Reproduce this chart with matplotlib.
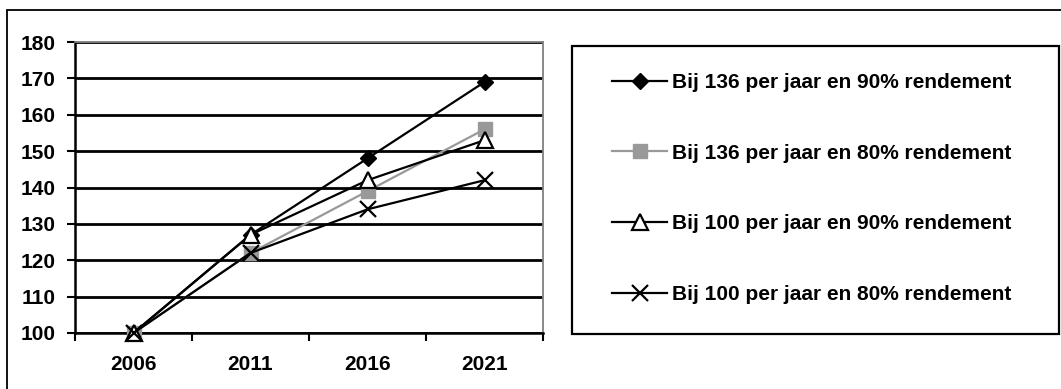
#!/usr/bin/env python3
"""Groei-index bij verschillende aantallen per jaar en rendement."""

import matplotlib.pyplot as plt
from matplotlib.patches import Rectangle

plt.rcParams["font.family"] = ["Liberation Sans", "DejaVu Sans"]
plt.rcParams["font.weight"] = "bold"

years = ["2006", "2011", "2016", "2021"]
s136_90 = [100, 127, 148, 169]
s136_80 = [100, 122, 139, 156]
s100_90 = [100, 127, 142, 153]
s100_80 = [100, 122, 134, 142]
labels = [
    "Bij 136 per jaar en 90% rendement",
    "Bij 136 per jaar en 80% rendement",
    "Bij 100 per jaar en 90% rendement",
    "Bij 100 per jaar en 80% rendement",
]

FS = 15
W, H = 1061, 389
fig = plt.figure(figsize=(W / 100, H / 100), dpi=100)

# outer chart border (runs off the right and bottom edge)
fig.patches.append(Rectangle((7 / W, -0.1), 1.2, 1.1 - 10 / H,
                             transform=fig.transFigure, fill=False,
                             edgecolor="black", linewidth=1.3))

ax = fig.add_axes([75 / W, (H - 333) / H, 468 / W, 291 / H])
x = range(len(years))

styles = [
    dict(color="black", marker="D", markersize=8, markerfacecolor="black"),
    dict(color="#999999", marker="s", markersize=10, markerfacecolor="#999999",
         markeredgecolor="#999999"),
    dict(color="black", marker="^", markersize=11, markerfacecolor="white",
         markeredgewidth=1.6),
    dict(color="black", marker="x", markersize=11, markeredgewidth=1.6),
]
series = [s136_90, s136_80, s100_90, s100_80]
handles = []
for vals, st, lab in zip(series, styles, labels):
    ln, = ax.plot(x, vals, linewidth=1.6, label=lab, clip_on=False, zorder=3, **st)
    handles.append(ln)

ax.set_xlim(-0.5, len(years) - 0.5)
ax.set_ylim(100, 180)
ax.set_yticks(range(100, 181, 10))
ax.yaxis.grid(True, color="black", linewidth=2)
ax.set_axisbelow(True)

# tick marks between categories, labels centred on them
ax.set_xticks([i - 0.5 for i in range(len(years) + 1)])
ax.set_xticklabels([])
ax.set_xticks(list(x), minor=True)
ax.set_xticklabels(years, minor=True)
ax.tick_params(axis="x", which="minor", length=0, pad=16, labelsize=FS)
ax.tick_params(axis="x", which="major", direction="out", length=6, width=1.5)
ax.tick_params(axis="y", direction="out", length=6, width=1.5, pad=8, labelsize=FS)

for side in ("top", "right"):
    ax.spines[side].set_color("#808080")
    ax.spines[side].set_linewidth(1.3)
for side in ("left", "bottom"):
    ax.spines[side].set_linewidth(1.8)

# legend box
fig.patches.append(Rectangle((572 / W, (H - 334) / H), (1059 - 572) / W, 288 / H,
                             transform=fig.transFigure, fill=False,
                             edgecolor="black", linewidth=1.6))
fig.legend(handles=handles, loc="center left", frameon=False, borderpad=0,
           borderaxespad=0, bbox_to_anchor=(612 / W, (H - 188.5) / H),
           fontsize=FS, labelspacing=2.48, handlelength=2.64,
           handletextpad=0.25)

fig.savefig("out.png", dpi=100)
